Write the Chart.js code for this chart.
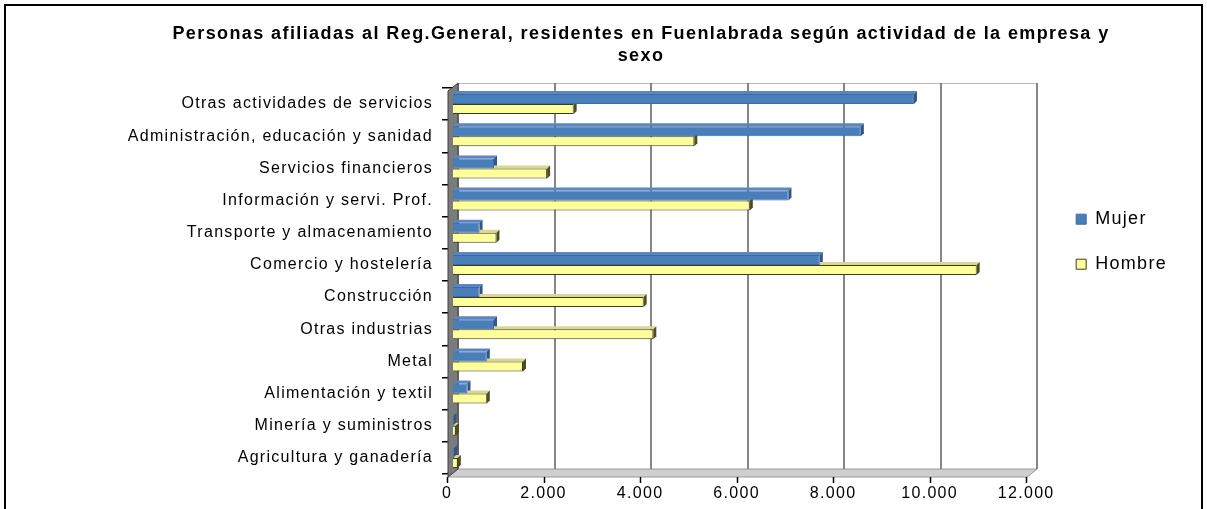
<!DOCTYPE html>
<html lang="es">
<head>
<meta charset="utf-8">
<title>Personas afiliadas al Reg.General - Fuenlabrada</title>
<script src="https://cdn.jsdelivr.net/npm/chart.js@4.4.1/dist/chart.umd.min.js"></script>
<style>
    html, body { margin: 0; padding: 0; background: #fff; overflow: hidden; }
    #marco { position: absolute; left: 4px; top: 4px; width: 1199px; height: 512px; border: 2px solid #000; box-sizing: border-box; }
    #marco canvas { display: block; }
</style>
</head>
<body>
<div id="marco"><canvas id="barChart"></canvas></div>
<script>
var titulo = [
    'Personas afiliadas al Reg.General, residentes en Fuenlabrada según actividad de la empresa y',
    'sexo'
];

var categorias = [
    'Otras actividades de servicios',
    'Administración, educación y sanidad',
    'Servicios financieros',
    'Información y servi. Prof.',
    'Transporte y almacenamiento',
    'Comercio y hostelería',
    'Construcción',
    'Otras industrias',
    'Metal',
    'Alimentación y textil',
    'Minería y suministros',
    'Agricultura y ganadería'
];

var mujer  = [9550, 8450, 850, 6950, 550, 7600, 550, 850, 700, 300, 10, 20];
var hombre = [2500, 5000, 1950, 6150, 900, 10850, 3950, 4150, 1450, 700, 60, 100];

var ticksX = [0, 2000, 4000, 6000, 8000, 10000, 12000];

// colores de las caras "3D" por serie
var caras = [
    { arriba: '#5a87c0', lado: '#2f5687' },
    { arriba: '#d9d98a', lado: '#4d4d1f' }
];

var fuente = '"Liberation Sans", Arial, sans-serif';

function formatoMiles(v) {
    return String(v).replace(/\B(?=(\d{3})+(?!\d))/g, '.');
}

var espaciado = {
    id: 'espaciado',
    beforeUpdate: function (chart) { chart.ctx.letterSpacing = '1.3px'; },
    beforeDraw: function (chart) { chart.ctx.letterSpacing = '1.3px'; }
};

var tituloExcel = {
    id: 'tituloExcel',
    afterDraw: function (chart) {
        var ctx = chart.ctx;
        ctx.save();
        ctx.letterSpacing = '1.4px';
        ctx.font = 'bold 18px ' + fuente;
        ctx.fillStyle = '#000';
        ctx.textAlign = 'center';
        ctx.textBaseline = 'middle';
        ctx.fillText(titulo[0], 635, 28);
        ctx.fillText(titulo[1], 635, 50);
        ctx.restore();
    }
};

var efecto3D = {
    id: 'efecto3D',
    beforeDatasetsDraw: function (chart) {
        var ctx = chart.ctx, a = chart.chartArea, sx = chart.scales.x;
        var d = 5;
        ctx.save();
        ctx.letterSpacing = '0px';

        // fondo: borde superior
        ctx.strokeStyle = '#b9b9b9';
        ctx.lineWidth = 1;
        ctx.beginPath();
        ctx.moveTo(a.left + d, a.top - d + 0.5);
        ctx.lineTo(a.right + d, a.top - d + 0.5);
        ctx.stroke();

        // suelo
        ctx.fillStyle = '#cfcfcf';
        ctx.strokeStyle = '#9a9a9a';
        ctx.beginPath();
        ctx.moveTo(a.left - d, a.bottom + 3);
        ctx.lineTo(a.right - d, a.bottom + 3);
        ctx.lineTo(a.right + d, a.bottom - d);
        ctx.lineTo(a.left + d, a.bottom - d);
        ctx.closePath();
        ctx.fill();
        ctx.stroke();

        // rejilla en el plano de fondo
        ctx.strokeStyle = '#858585';
        ctx.lineWidth = 2;
        ticksX.forEach(function (v) {
            var px = Math.round(sx.getPixelForValue(v)) + d;
            ctx.beginPath();
            ctx.moveTo(px, a.top - d);
            ctx.lineTo(px, a.bottom - d);
            ctx.stroke();
        });

        // marcas del eje X en el plano frontal
        ctx.strokeStyle = '#000';
        ctx.lineWidth = 1.5;
        ticksX.forEach(function (v) {
            var px = Math.round(sx.getPixelForValue(v)) - d - 0.5;
            ctx.beginPath();
            ctx.moveTo(px, a.bottom + 3);
            ctx.lineTo(px, a.bottom + 9);
            ctx.stroke();
        });

        // pared izquierda
        ctx.fillStyle = '#7b7b7b';
        ctx.strokeStyle = '#3f3f3f';
        ctx.lineWidth = 1;
        ctx.beginPath();
        ctx.moveTo(a.left - d, a.top + 3);
        ctx.lineTo(a.left + d, a.top - d);
        ctx.lineTo(a.left + d, a.bottom - d);
        ctx.lineTo(a.left - d, a.bottom + 3);
        ctx.closePath();
        ctx.fill();
        ctx.stroke();

        // caras superior y lateral de cada barra
        var p = 3;
        chart.data.datasets.forEach(function (ds, i) {
            var meta = chart.getDatasetMeta(i);
            meta.data.forEach(function (bar) {
                var top = bar.y - bar.height / 2, bot = bar.y + bar.height / 2;
                ctx.fillStyle = caras[i].arriba;
                ctx.beginPath();
                ctx.moveTo(bar.base, top);
                ctx.lineTo(bar.base + p, top - p);
                ctx.lineTo(bar.x + p, top - p);
                ctx.lineTo(bar.x, top);
                ctx.closePath();
                ctx.fill();
                ctx.fillStyle = caras[i].lado;
                ctx.beginPath();
                ctx.moveTo(bar.x, top);
                ctx.lineTo(bar.x + p, top - p);
                ctx.lineTo(bar.x + p, bot - p);
                ctx.lineTo(bar.x, bot);
                ctx.closePath();
                ctx.fill();
            });
        });
        ctx.restore();
    }
};

var data = {
    labels: categorias,
    datasets: [
        {
            label: 'Mujer',
            data: mujer,
            backgroundColor: '#4a7ebb',
            borderColor: '#3a6aa6',
            borderWidth: 1,
            categoryPercentage: 0.62,
            barPercentage: 1.0
        },
        {
            label: 'Hombre',
            data: hombre,
            backgroundColor: '#ffff99',
            borderColor: '#3a3a2a',
            borderWidth: 1,
            categoryPercentage: 0.62,
            barPercentage: 1.0
        }
    ]
};

var options = {
    indexAxis: 'y',
    responsive: true,
    maintainAspectRatio: false,
    animation: false,
    layout: { padding: { top: 82, left: 0, right: 24, bottom: 0 } },
    scales: {
        x: {
            min: 0,
            max: 12000,
            afterBuildTicks: function (s) {
                s.ticks = ticksX.map(function (v) { return { value: v }; });
            },
            afterFit: function (s) { s.height = 40; },
            grid: { display: false, drawTicks: false },
            border: { display: false },
            ticks: {
                color: '#000',
                font: { family: fuente, size: 16 },
                padding: 10,
                labelOffset: -6,
                maxRotation: 0,
                callback: function (v) { return formatoMiles(v); }
            }
        },
        y: {
            afterFit: function (s) { s.width = 447; },
            grid: { display: true, drawOnChartArea: false, tickLength: 11, color: '#000', lineWidth: 1.5 },
            border: { display: false },
            ticks: {
                color: '#000',
                font: { family: fuente, size: 16 },
                padding: 9
            }
        },
        hueco: {
            type: 'linear',
            position: 'right',
            axis: 'y',
            afterFit: function (s) { s.width = 17; },
            grid: { display: false },
            border: { display: false },
            ticks: { display: false }
        }
    },
    plugins: {
        title: { display: false },
        tooltip: { enabled: false },
        legend: {
            position: 'right',
            align: 'start',
            title: { display: true, text: '', font: { size: 1 }, padding: { top: 0, bottom: 94 } },
            labels: {
                color: '#000',
                boxWidth: 10,
                boxHeight: 10,
                padding: 27,
                font: { family: fuente, size: 18 }
            }
        }
    }
};

var ctx = document.getElementById('barChart').getContext('2d');
new Chart(ctx, { type: 'bar', data: data, options: options, plugins: [espaciado, efecto3D, tituloExcel] });
</script>
</body>
</html>
